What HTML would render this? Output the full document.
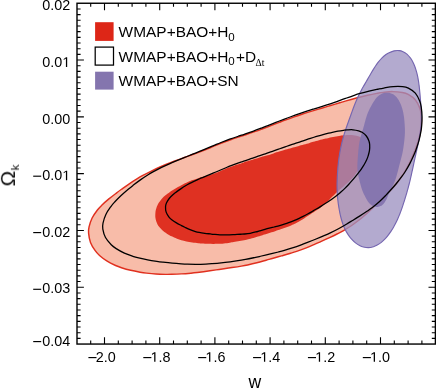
<!DOCTYPE html>
<html>
<head>
<meta charset="utf-8">
<title>Omega_k vs w constraints</title>
<style>
html,body{margin:0;padding:0;background:#fff;}
body{width:436px;height:388px;overflow:hidden;font-family:"Liberation Sans",sans-serif;}
svg{display:block;}
</style>
</head>
<body>
<svg width="436" height="388" viewBox="0 0 436 388">
<rect width="436" height="388" fill="#fff"/>
<path d="M88.59 233.18C88.35 230.60 88.46 229.46 89.05 226.93C89.64 224.39 90.73 220.79 92.13 217.97C93.52 215.15 95.82 212.11 97.42 210.00C99.02 207.89 99.84 207.14 101.75 205.29C103.66 203.44 106.44 200.97 108.88 198.93C111.32 196.89 114.27 194.66 116.37 193.06C118.47 191.45 119.32 190.82 121.47 189.28C123.63 187.74 126.64 185.57 129.28 183.80C131.93 182.03 135.08 180.04 137.35 178.65C139.61 177.26 140.54 176.73 142.87 175.46C145.20 174.19 148.49 172.45 151.35 171.04C154.20 169.63 157.57 168.09 159.99 167.00C162.40 165.91 163.37 165.49 165.83 164.49C168.28 163.49 171.73 162.12 174.71 161.00C177.69 159.87 181.20 158.64 183.71 157.75C186.21 156.85 187.23 156.53 189.73 155.63C192.22 154.72 195.72 153.48 198.69 152.34C201.66 151.21 205.08 149.82 207.54 148.83C209.99 147.84 210.95 147.40 213.41 146.39C215.87 145.39 219.31 143.95 222.28 142.79C225.26 141.63 228.77 140.35 231.28 139.45C233.78 138.56 234.80 138.24 237.31 137.41C239.83 136.58 243.35 135.46 246.37 134.47C249.38 133.47 252.89 132.30 255.39 131.43C257.89 130.57 258.89 130.20 261.39 129.28C263.88 128.35 267.38 127.01 270.36 125.86C273.34 124.72 276.81 123.35 279.28 122.39C281.75 121.43 282.73 121.04 285.21 120.12C287.68 119.20 291.13 117.92 294.13 116.87C297.12 115.81 300.66 114.64 303.19 113.80C305.72 112.97 306.75 112.65 309.30 111.87C311.86 111.09 315.45 110.01 318.50 109.10C321.55 108.19 325.09 107.17 327.62 106.42C330.15 105.68 331.14 105.38 333.67 104.63C336.20 103.87 339.73 102.79 342.79 101.88C345.86 100.98 349.48 99.91 352.05 99.18C354.63 98.44 355.68 98.14 358.26 97.49C360.83 96.83 364.42 95.92 367.49 95.23C370.56 94.55 374.11 93.84 376.69 93.36C379.26 92.88 380.28 92.66 382.93 92.37C385.58 92.08 389.38 91.58 392.61 91.60C395.84 91.62 399.69 92.01 402.30 92.49C404.90 92.97 406.06 93.23 408.25 94.49C410.44 95.74 413.51 97.72 415.44 99.99C417.37 102.27 418.87 105.73 419.83 108.14C420.79 110.55 420.93 111.78 421.19 114.47C421.45 117.16 421.57 121.07 421.38 124.28C421.19 127.49 420.50 131.16 420.03 133.74C419.55 136.33 419.27 137.30 418.52 139.79C417.77 142.28 416.65 145.73 415.54 148.69C414.43 151.66 412.94 155.13 411.87 157.59C410.80 160.05 410.34 161.07 409.14 163.46C407.93 165.85 406.25 169.21 404.65 171.94C403.05 174.66 401.03 177.68 399.54 179.81C398.05 181.95 397.40 182.74 395.69 184.74C393.97 186.73 391.48 189.48 389.26 191.79C387.04 194.09 384.30 196.71 382.38 198.59C380.46 200.47 379.67 201.21 377.76 203.04C375.85 204.87 373.21 207.44 370.91 209.60C368.60 211.75 365.92 214.22 363.94 215.96C361.97 217.70 361.18 218.41 359.07 220.04C356.96 221.67 353.96 223.95 351.30 225.73C348.64 227.52 345.39 229.43 343.09 230.77C340.79 232.11 339.84 232.58 337.49 233.77C335.14 234.96 331.85 236.55 328.99 237.90C326.13 239.25 322.77 240.76 320.35 241.85C317.94 242.93 316.95 243.39 314.50 244.43C312.04 245.47 308.58 246.96 305.60 248.11C302.62 249.27 299.12 250.50 296.62 251.36C294.12 252.21 293.12 252.50 290.60 253.25C288.08 254.01 284.54 255.00 281.49 255.87C278.43 256.74 274.83 257.74 272.26 258.46C269.70 259.19 268.66 259.51 266.09 260.22C263.51 260.94 259.92 261.98 256.84 262.76C253.76 263.54 250.17 264.36 247.59 264.92C245.02 265.47 243.99 265.65 241.38 266.09C238.77 266.53 235.10 267.09 231.94 267.56C228.78 268.04 225.06 268.56 222.41 268.95C219.77 269.33 218.71 269.50 216.08 269.89C213.46 270.28 209.80 270.85 206.66 271.29C203.52 271.72 199.88 272.19 197.26 272.51C194.64 272.82 193.59 272.93 190.93 273.16C188.28 273.39 184.55 273.70 181.35 273.89C178.15 274.08 174.41 274.22 171.75 274.30C169.09 274.38 168.03 274.41 165.39 274.36C162.76 274.32 159.08 274.25 155.92 274.04C152.77 273.83 149.09 273.43 146.45 273.12C143.82 272.81 142.75 272.65 140.12 272.18C137.49 271.70 133.78 271.02 130.68 270.27C127.57 269.52 124.00 268.49 121.49 267.70C118.97 266.90 117.97 266.58 115.58 265.50C113.20 264.42 109.83 262.89 107.16 261.22C104.49 259.54 101.53 257.20 99.54 255.44C97.55 253.69 96.72 252.88 95.21 250.70C93.70 248.53 91.59 245.32 90.49 242.40C89.39 239.48 88.83 235.76 88.59 233.18Z" fill="#f8bca9" stroke="#e0301f" stroke-width="1.45"/>
<path d="M155.48 212.05C155.63 210.41 155.81 209.71 156.35 208.17C156.90 206.62 157.78 204.46 158.77 202.79C159.76 201.12 161.23 199.37 162.30 198.15C163.36 196.92 163.88 196.49 165.15 195.45C166.43 194.41 168.30 193.02 169.94 191.90C171.59 190.78 173.61 189.59 175.02 188.74C176.44 187.88 177.02 187.56 178.45 186.77C179.88 185.97 181.88 184.86 183.63 183.98C185.39 183.09 187.47 182.12 188.97 181.45C190.47 180.78 191.10 180.53 192.66 179.98C194.22 179.42 196.44 178.70 198.35 178.13C200.25 177.57 202.50 177.02 204.08 176.59C205.67 176.17 206.31 176.04 207.88 175.57C209.45 175.11 211.64 174.46 213.50 173.81C215.36 173.15 217.52 172.28 219.06 171.66C220.60 171.04 221.21 170.75 222.74 170.10C224.27 169.46 226.40 168.54 228.24 167.81C230.07 167.09 232.21 166.30 233.75 165.74C235.29 165.18 235.90 164.99 237.47 164.47C239.03 163.96 241.23 163.26 243.13 162.65C245.02 162.05 247.26 161.34 248.84 160.85C250.43 160.35 251.06 160.15 252.64 159.67C254.21 159.19 256.41 158.53 258.29 157.98C260.18 157.42 262.37 156.79 263.95 156.33C265.52 155.87 266.16 155.69 267.74 155.20C269.33 154.72 271.56 154.02 273.46 153.42C275.36 152.81 277.57 152.09 279.15 151.59C280.72 151.09 281.34 150.88 282.90 150.42C284.47 149.95 286.65 149.31 288.55 148.79C290.44 148.26 292.68 147.68 294.28 147.26C295.88 146.83 296.54 146.67 298.14 146.22C299.75 145.78 302.01 145.16 303.92 144.61C305.82 144.06 308.01 143.40 309.58 142.94C311.15 142.48 311.75 142.28 313.33 141.84C314.90 141.39 317.10 140.77 319.02 140.26C320.94 139.76 323.23 139.21 324.86 138.83C326.48 138.44 327.16 138.30 328.78 137.96C330.40 137.63 332.67 137.17 334.59 136.82C336.52 136.47 338.72 136.11 340.32 135.87C341.93 135.63 342.55 135.51 344.20 135.37C345.86 135.24 348.22 134.99 350.23 135.04C352.24 135.10 354.66 135.39 356.28 135.72C357.90 136.06 358.63 136.24 359.95 137.07C361.28 137.89 363.14 139.20 364.22 140.68C365.31 142.16 366.02 144.40 366.44 145.94C366.85 147.48 366.84 148.27 366.72 149.94C366.60 151.60 366.24 154.02 365.71 155.93C365.17 157.85 364.20 159.96 363.53 161.45C362.86 162.94 362.52 163.47 361.69 164.86C360.87 166.25 359.67 168.16 358.57 169.80C357.47 171.43 356.09 173.33 355.09 174.66C354.09 175.99 353.67 176.54 352.57 177.79C351.46 179.03 349.89 180.75 348.47 182.12C347.05 183.49 345.30 184.95 344.07 186.01C342.83 187.08 342.30 187.45 341.06 188.51C339.82 189.57 338.07 191.04 336.62 192.38C335.18 193.71 333.56 195.37 332.39 196.54C331.23 197.71 330.81 198.22 329.65 199.39C328.49 200.55 326.89 202.20 325.43 203.51C323.98 204.83 322.19 206.25 320.91 207.26C319.62 208.26 319.06 208.62 317.70 209.55C316.34 210.47 314.39 211.73 312.74 212.81C311.09 213.88 309.15 215.12 307.77 216.01C306.39 216.90 305.86 217.26 304.47 218.13C303.09 218.99 301.16 220.22 299.45 221.20C297.74 222.17 295.69 223.25 294.21 223.99C292.74 224.72 292.12 225.00 290.59 225.63C289.06 226.26 286.90 227.11 285.04 227.78C283.18 228.46 281.00 229.16 279.44 229.68C277.89 230.19 277.26 230.38 275.70 230.88C274.14 231.39 271.95 232.10 270.07 232.72C268.19 233.34 265.99 234.08 264.42 234.60C262.85 235.12 262.22 235.35 260.65 235.84C259.07 236.33 256.87 237.03 254.97 237.56C253.08 238.10 250.85 238.65 249.25 239.04C247.66 239.43 247.01 239.57 245.39 239.90C243.77 240.24 241.50 240.69 239.55 241.05C237.59 241.41 235.31 241.80 233.68 242.06C232.05 242.33 231.41 242.44 229.78 242.66C228.15 242.89 225.87 243.20 223.91 243.39C221.94 243.58 219.64 243.74 217.99 243.83C216.34 243.92 215.68 243.94 214.02 243.94C212.37 243.95 210.05 243.93 208.07 243.86C206.09 243.79 203.80 243.64 202.16 243.53C200.52 243.41 199.87 243.36 198.23 243.18C196.59 243.00 194.30 242.75 192.34 242.46C190.38 242.17 188.09 241.75 186.47 241.42C184.86 241.09 184.21 240.94 182.63 240.49C181.05 240.03 178.85 239.37 177.01 238.69C175.17 238.00 173.07 237.06 171.59 236.35C170.10 235.65 169.49 235.36 168.10 234.48C166.70 233.60 164.70 232.36 163.21 231.09C161.71 229.82 160.14 228.13 159.12 226.87C158.11 225.62 157.72 225.04 157.11 223.56C156.50 222.08 155.72 219.90 155.45 217.99C155.18 216.07 155.33 213.69 155.48 212.05Z" fill="#df3122"/>
<path d="M399.28 50.60C400.68 50.70 401.27 50.86 402.54 51.45C403.82 52.04 405.61 53.03 406.94 54.15C408.27 55.27 409.61 56.98 410.53 58.17C411.45 59.36 411.76 59.95 412.46 61.30C413.16 62.65 414.07 64.61 414.73 66.29C415.38 67.96 415.97 69.95 416.39 71.35C416.81 72.76 416.94 73.31 417.26 74.73C417.57 76.15 417.98 78.12 418.28 79.85C418.58 81.59 418.85 83.64 419.05 85.12C419.25 86.59 419.30 87.20 419.46 88.70C419.61 90.20 419.81 92.32 419.98 94.12C420.14 95.91 420.31 98.00 420.43 99.49C420.56 100.97 420.61 101.55 420.72 103.02C420.83 104.48 421.00 106.52 421.11 108.28C421.22 110.03 421.33 112.09 421.38 113.56C421.44 115.04 421.46 115.63 421.45 117.13C421.44 118.62 421.41 120.73 421.31 122.53C421.21 124.33 421.01 126.44 420.86 127.93C420.71 129.42 420.62 130.01 420.40 131.47C420.18 132.94 419.85 134.97 419.53 136.71C419.22 138.45 418.80 140.45 418.51 141.89C418.22 143.33 418.09 143.90 417.78 145.35C417.46 146.80 417.01 148.83 416.63 150.58C416.24 152.34 415.79 154.40 415.47 155.87C415.14 157.33 415.01 157.93 414.70 159.38C414.38 160.84 413.94 162.88 413.56 164.61C413.19 166.35 412.76 168.35 412.45 169.79C412.14 171.22 412.02 171.79 411.70 173.23C411.38 174.66 410.94 176.68 410.53 178.41C410.12 180.15 409.62 182.19 409.26 183.65C408.89 185.10 408.74 185.69 408.35 187.14C407.95 188.59 407.40 190.62 406.90 192.34C406.41 194.05 405.82 196.03 405.40 197.44C404.97 198.85 404.80 199.41 404.36 200.80C403.91 202.20 403.30 204.15 402.73 205.83C402.17 207.51 401.48 209.48 400.97 210.89C400.47 212.29 400.26 212.86 399.69 214.26C399.12 215.65 398.32 217.62 397.58 219.26C396.83 220.89 395.90 222.77 395.23 224.09C394.56 225.41 394.28 225.92 393.53 227.18C392.79 228.44 391.74 230.18 390.76 231.63C389.78 233.08 388.55 234.72 387.64 235.89C386.73 237.05 386.35 237.52 385.30 238.60C384.25 239.67 382.74 241.21 381.33 242.34C379.91 243.47 378.10 244.63 376.80 245.37C375.50 246.11 374.93 246.38 373.53 246.77C372.13 247.16 370.12 247.65 368.41 247.69C366.71 247.74 364.70 247.36 363.30 247.05C361.91 246.73 361.34 246.48 360.04 245.79C358.75 245.10 356.94 244.01 355.53 242.90C354.13 241.80 352.63 240.25 351.60 239.15C350.56 238.06 350.19 237.57 349.32 236.35C348.46 235.13 347.29 233.40 346.42 231.86C345.54 230.32 344.69 228.45 344.08 227.11C343.48 225.78 343.28 225.23 342.81 223.83C342.33 222.44 341.71 220.47 341.24 218.76C340.77 217.04 340.31 214.99 339.99 213.54C339.67 212.08 339.56 211.48 339.30 210.01C339.04 208.54 338.69 206.47 338.43 204.70C338.18 202.93 337.93 200.87 337.77 199.39C337.60 197.92 337.55 197.33 337.44 195.86C337.34 194.39 337.21 192.33 337.15 190.56C337.08 188.78 337.07 186.71 337.07 185.23C337.07 183.75 337.08 183.15 337.12 181.66C337.17 180.17 337.24 178.09 337.33 176.30C337.41 174.51 337.55 172.43 337.65 170.94C337.75 169.45 337.79 168.86 337.92 167.38C338.06 165.90 338.25 163.83 338.45 162.07C338.65 160.30 338.93 158.25 339.13 156.79C339.34 155.33 339.43 154.74 339.69 153.28C339.94 151.82 340.32 149.78 340.68 148.03C341.04 146.28 341.51 144.25 341.85 142.80C342.20 141.35 342.34 140.76 342.74 139.33C343.13 137.89 343.69 135.87 344.20 134.17C344.72 132.46 345.36 130.49 345.82 129.08C346.28 127.67 346.48 127.12 346.96 125.72C347.45 124.33 348.15 122.38 348.75 120.71C349.35 119.04 350.06 117.09 350.57 115.69C351.08 114.29 351.28 113.73 351.80 112.33C352.31 110.93 353.03 108.95 353.66 107.28C354.30 105.61 355.06 103.66 355.61 102.29C356.17 100.91 356.39 100.36 357.00 99.02C357.60 97.67 358.46 95.80 359.25 94.22C360.03 92.64 361.01 90.82 361.71 89.52C362.41 88.22 362.71 87.70 363.45 86.41C364.19 85.11 365.25 83.29 366.15 81.73C367.05 80.17 368.11 78.35 368.86 77.05C369.61 75.75 369.90 75.23 370.65 73.95C371.40 72.67 372.43 70.88 373.35 69.38C374.27 67.88 375.37 66.17 376.19 64.96C377.00 63.75 377.32 63.26 378.26 62.12C379.19 60.98 380.51 59.36 381.80 58.10C383.09 56.84 384.76 55.47 385.98 54.56C387.20 53.66 387.74 53.28 389.10 52.66C390.47 52.03 392.45 51.16 394.14 50.82C395.84 50.48 397.88 50.49 399.28 50.60Z" fill="#9c90c0" fill-opacity="0.77" stroke="#7566b0" stroke-width="1.15"/>
<path d="M388.39 92.76C389.24 92.81 389.59 92.88 390.39 93.14C391.19 93.40 392.32 93.82 393.19 94.32C394.06 94.82 394.99 95.59 395.63 96.14C396.26 96.69 396.49 96.96 397.01 97.64C397.54 98.31 398.23 99.29 398.76 100.18C399.28 101.06 399.80 102.16 400.17 102.93C400.53 103.71 400.66 104.03 400.96 104.83C401.27 105.63 401.68 106.76 401.99 107.73C402.29 108.71 402.61 109.86 402.82 110.69C403.03 111.51 403.11 111.85 403.27 112.69C403.44 113.53 403.65 114.71 403.80 115.73C403.96 116.75 404.09 117.95 404.19 118.81C404.28 119.67 404.31 120.01 404.39 120.87C404.46 121.72 404.56 122.92 404.63 123.94C404.70 124.97 404.78 126.16 404.82 127.01C404.87 127.87 404.88 128.21 404.90 129.06C404.92 129.92 404.94 131.12 404.92 132.15C404.90 133.18 404.84 134.38 404.79 135.24C404.75 136.10 404.71 136.45 404.64 137.30C404.56 138.16 404.43 139.36 404.32 140.39C404.21 141.41 404.06 142.60 403.96 143.44C403.86 144.29 403.81 144.63 403.70 145.48C403.59 146.32 403.43 147.51 403.27 148.52C403.11 149.54 402.91 150.72 402.75 151.57C402.60 152.41 402.53 152.75 402.34 153.60C402.16 154.44 401.88 155.62 401.64 156.62C401.39 157.62 401.07 158.78 400.86 159.61C400.64 160.44 400.54 160.76 400.32 161.59C400.10 162.41 399.80 163.57 399.54 164.56C399.28 165.55 398.99 166.71 398.78 167.55C398.57 168.38 398.49 168.71 398.28 169.55C398.07 170.39 397.78 171.56 397.51 172.56C397.25 173.56 396.93 174.73 396.69 175.55C396.46 176.37 396.36 176.70 396.10 177.51C395.83 178.32 395.46 179.45 395.10 180.40C394.74 181.36 394.28 182.46 393.95 183.24C393.61 184.03 393.47 184.34 393.09 185.12C392.72 185.90 392.18 186.99 391.72 187.92C391.26 188.85 390.70 189.93 390.32 190.70C389.94 191.48 389.79 191.78 389.43 192.56C389.07 193.33 388.59 194.41 388.17 195.34C387.76 196.28 387.30 197.37 386.95 198.15C386.60 198.92 386.48 199.25 386.06 200.00C385.64 200.75 385.05 201.83 384.42 202.65C383.79 203.47 382.93 204.35 382.28 204.91C381.64 205.48 381.33 205.71 380.57 206.05C379.81 206.39 378.67 206.84 377.70 206.97C376.73 207.09 375.54 206.95 374.74 206.80C373.94 206.66 373.60 206.52 372.88 206.11C372.15 205.69 371.15 205.02 370.39 204.34C369.64 203.65 368.87 202.67 368.33 201.99C367.79 201.31 367.61 201.00 367.16 200.27C366.70 199.53 366.09 198.48 365.61 197.58C365.12 196.68 364.60 195.61 364.23 194.85C363.86 194.09 363.72 193.78 363.39 193.00C363.07 192.22 362.62 191.12 362.27 190.15C361.92 189.19 361.55 188.04 361.29 187.21C361.03 186.39 360.94 186.05 360.71 185.22C360.48 184.39 360.16 183.21 359.90 182.21C359.64 181.21 359.35 180.05 359.15 179.22C358.94 178.39 358.85 178.06 358.67 177.23C358.49 176.40 358.23 175.24 358.05 174.24C357.87 173.23 357.71 172.04 357.60 171.20C357.50 170.35 357.47 170.00 357.43 169.14C357.39 168.28 357.35 167.08 357.35 166.04C357.36 165.01 357.41 163.80 357.45 162.94C357.48 162.08 357.51 161.74 357.57 160.89C357.62 160.03 357.71 158.84 357.78 157.82C357.86 156.80 357.95 155.61 358.02 154.75C358.08 153.90 358.11 153.56 358.18 152.70C358.25 151.84 358.35 150.64 358.45 149.61C358.55 148.58 358.68 147.38 358.78 146.53C358.87 145.67 358.91 145.33 359.05 144.48C359.18 143.64 359.36 142.45 359.56 141.45C359.76 140.44 360.03 139.28 360.22 138.45C360.42 137.62 360.52 137.29 360.75 136.47C360.99 135.65 361.34 134.50 361.64 133.51C361.94 132.52 362.32 131.38 362.57 130.55C362.83 129.73 362.94 129.40 363.18 128.58C363.42 127.76 363.75 126.60 364.02 125.61C364.29 124.62 364.58 123.45 364.79 122.62C365.00 121.80 365.08 121.46 365.30 120.63C365.52 119.81 365.83 118.65 366.13 117.66C366.43 116.68 366.82 115.54 367.10 114.73C367.39 113.92 367.52 113.60 367.85 112.81C368.18 112.02 368.67 110.91 369.10 109.98C369.54 109.05 370.09 107.98 370.48 107.22C370.87 106.46 371.03 106.15 371.44 105.41C371.86 104.66 372.44 103.61 372.98 102.73C373.52 101.85 374.18 100.85 374.67 100.15C375.16 99.45 375.36 99.16 375.92 98.52C376.49 97.88 377.29 96.98 378.06 96.31C378.83 95.64 379.82 94.97 380.54 94.52C381.26 94.07 381.58 93.90 382.38 93.62C383.18 93.34 384.33 92.97 385.33 92.83C386.34 92.68 387.55 92.71 388.39 92.76Z" fill="#8475ae" fill-opacity="0.97"/>
<path d="M102.82 229.07C102.41 226.67 102.50 225.56 103.01 223.12C103.52 220.68 104.57 217.19 105.88 214.43C107.20 211.66 109.40 208.64 110.90 206.53C112.41 204.43 113.16 203.66 114.90 201.79C116.65 199.92 119.16 197.39 121.38 195.31C123.61 193.23 126.30 190.94 128.24 189.29C130.17 187.65 130.97 187.00 132.99 185.43C135.02 183.87 137.88 181.67 140.40 179.89C142.92 178.11 145.94 176.13 148.11 174.76C150.27 173.38 151.16 172.86 153.40 171.63C155.64 170.41 158.79 168.74 161.55 167.40C164.30 166.06 167.57 164.62 169.91 163.59C172.24 162.55 173.20 162.17 175.56 161.19C177.93 160.20 181.26 158.85 184.11 157.68C186.96 156.52 190.29 155.18 192.66 154.21C195.04 153.24 195.98 152.86 198.35 151.88C200.71 150.91 204.00 149.53 206.83 148.35C209.66 147.17 212.96 145.78 215.32 144.80C217.68 143.83 218.63 143.43 221.02 142.50C223.41 141.57 226.77 140.27 229.66 139.22C232.56 138.18 235.97 137.03 238.40 136.21C240.82 135.38 241.80 135.09 244.22 134.27C246.64 133.45 250.02 132.32 252.90 131.28C255.78 130.25 259.12 128.98 261.52 128.07C263.91 127.16 264.86 126.76 267.25 125.82C269.64 124.88 272.99 123.53 275.86 122.41C278.73 121.29 282.08 120.02 284.47 119.11C286.85 118.21 287.80 117.86 290.20 117.00C292.59 116.13 295.93 114.92 298.83 113.92C301.73 112.91 305.15 111.76 307.59 110.96C310.04 110.15 311.04 109.84 313.50 109.07C315.95 108.30 319.41 107.26 322.34 106.35C325.26 105.43 328.63 104.37 331.04 103.58C333.45 102.78 334.39 102.45 336.79 101.59C339.19 100.73 342.54 99.46 345.45 98.41C348.37 97.36 351.81 96.12 354.26 95.29C356.72 94.46 357.73 94.14 360.19 93.46C362.64 92.77 366.08 91.88 369.02 91.18C371.96 90.47 375.37 89.77 377.84 89.25C380.31 88.72 381.29 88.48 383.85 88.04C386.42 87.60 390.09 86.84 393.21 86.61C396.34 86.38 400.08 86.39 402.60 86.65C405.13 86.92 406.24 87.08 408.37 88.17C410.49 89.26 413.45 91.05 415.33 93.20C417.22 95.35 418.71 98.73 419.69 101.07C420.68 103.40 420.84 104.61 421.23 107.21C421.63 109.81 421.98 113.58 422.05 116.68C422.13 119.79 421.87 123.31 421.68 125.82C421.49 128.32 421.37 129.27 420.91 131.72C420.46 134.18 419.76 137.60 418.96 140.55C418.15 143.51 416.95 146.99 416.09 149.44C415.22 151.90 414.81 152.92 413.77 155.29C412.72 157.66 411.24 160.97 409.82 163.67C408.41 166.37 406.61 169.36 405.29 171.49C403.96 173.63 403.39 174.43 401.87 176.47C400.35 178.51 398.15 181.34 396.18 183.73C394.20 186.12 391.75 188.87 390.02 190.80C388.29 192.73 387.59 193.51 385.80 195.33C384.01 197.15 381.53 199.68 379.28 201.70C377.04 203.73 374.31 205.93 372.33 207.50C370.35 209.06 369.50 209.63 367.37 211.08C365.25 212.52 362.19 214.50 359.57 216.16C356.95 217.82 353.83 219.70 351.64 221.03C349.44 222.37 348.58 222.90 346.39 224.18C344.20 225.45 341.17 227.24 338.49 228.69C335.81 230.13 332.62 231.73 330.32 232.85C328.02 233.98 327.05 234.40 324.68 235.43C322.31 236.46 318.94 237.87 316.08 239.03C313.22 240.20 309.89 241.50 307.52 242.42C305.15 243.35 304.23 243.72 301.84 244.58C299.46 245.45 296.15 246.67 293.24 247.64C290.33 248.60 286.86 249.65 284.38 250.37C281.91 251.10 280.88 251.36 278.38 252.00C275.89 252.64 272.38 253.50 269.40 254.21C266.42 254.92 262.98 255.69 260.50 256.25C258.03 256.81 257.06 257.04 254.57 257.56C252.07 258.08 248.56 258.82 245.52 259.39C242.48 259.96 238.88 260.56 236.33 260.97C233.78 261.37 232.75 261.52 230.21 261.84C227.67 262.16 224.15 262.59 221.12 262.90C218.09 263.21 214.58 263.50 212.05 263.70C209.51 263.89 208.49 263.97 205.92 264.07C203.35 264.18 199.71 264.32 196.61 264.34C193.51 264.36 189.88 264.27 187.32 264.19C184.75 264.12 183.74 264.05 181.21 263.88C178.68 263.70 175.18 263.43 172.15 263.14C169.12 262.85 165.58 262.44 163.03 262.14C160.49 261.84 159.44 261.72 156.87 261.33C154.31 260.95 150.68 260.41 147.64 259.85C144.61 259.28 141.13 258.51 138.67 257.92C136.20 257.33 135.25 257.10 132.87 256.30C130.49 255.50 127.15 254.40 124.37 253.13C121.59 251.85 118.38 250.05 116.19 248.66C114.00 247.27 113.02 246.63 111.24 244.77C109.46 242.92 106.90 240.17 105.50 237.55C104.09 234.94 103.24 231.48 102.82 229.07Z" fill="none" stroke="#000" stroke-width="1.28"/>
<path d="M165.54 206.65C165.59 205.13 165.80 204.45 166.44 203.05C167.08 201.65 168.22 199.72 169.39 198.25C170.56 196.78 172.30 195.31 173.48 194.24C174.66 193.18 175.20 192.82 176.48 191.88C177.75 190.94 179.55 189.65 181.13 188.60C182.71 187.55 184.58 186.38 185.93 185.56C187.29 184.74 187.84 184.42 189.25 183.68C190.65 182.94 192.63 181.93 194.35 181.11C196.07 180.29 198.11 179.41 199.56 178.77C201.01 178.14 201.60 177.90 203.06 177.29C204.53 176.68 206.58 175.84 208.34 175.12C210.10 174.40 212.16 173.56 213.62 172.96C215.09 172.36 215.68 172.11 217.14 171.49C218.60 170.88 220.63 170.00 222.38 169.25C224.13 168.50 226.17 167.62 227.63 167.01C229.09 166.40 229.68 166.15 231.16 165.59C232.64 165.02 234.72 164.25 236.52 163.61C238.31 162.98 240.42 162.28 241.92 161.78C243.43 161.27 244.03 161.08 245.53 160.57C247.03 160.06 249.12 159.34 250.92 158.71C252.72 158.09 254.82 157.35 256.32 156.83C257.82 156.32 258.42 156.11 259.92 155.60C261.42 155.09 263.53 154.39 265.33 153.78C267.14 153.18 269.23 152.46 270.73 151.95C272.23 151.43 272.82 151.22 274.32 150.68C275.81 150.15 277.90 149.39 279.69 148.75C281.49 148.12 283.59 147.38 285.09 146.86C286.59 146.34 287.19 146.14 288.69 145.64C290.20 145.14 292.30 144.44 294.10 143.84C295.90 143.24 298.00 142.53 299.50 142.02C301.00 141.51 301.60 141.30 303.11 140.80C304.62 140.29 306.73 139.57 308.54 138.98C310.35 138.40 312.47 137.73 313.98 137.26C315.49 136.79 316.10 136.61 317.61 136.17C319.13 135.72 321.25 135.10 323.09 134.60C324.92 134.10 327.08 133.54 328.62 133.15C330.16 132.76 330.79 132.61 332.34 132.28C333.90 131.95 336.07 131.50 337.94 131.17C339.81 130.83 341.99 130.50 343.55 130.28C345.11 130.07 345.74 129.96 347.32 129.88C348.90 129.80 351.14 129.63 353.03 129.79C354.91 129.94 357.13 130.38 358.65 130.81C360.16 131.23 360.82 131.48 362.10 132.34C363.39 133.21 365.20 134.57 366.34 136.01C367.48 137.45 368.38 139.53 368.94 140.97C369.49 142.42 369.58 143.11 369.67 144.68C369.76 146.25 369.74 148.51 369.48 150.39C369.23 152.26 368.59 154.42 368.15 155.94C367.70 157.45 367.45 158.04 366.79 159.47C366.14 160.90 365.17 162.88 364.22 164.52C363.27 166.15 362.00 167.98 361.10 169.29C360.20 170.59 359.79 171.09 358.81 172.34C357.83 173.59 356.43 175.33 355.23 176.81C354.02 178.28 352.59 179.97 351.56 181.18C350.54 182.38 350.13 182.86 349.06 184.02C347.98 185.18 346.48 186.80 345.12 188.13C343.76 189.45 342.09 190.93 340.90 191.98C339.71 193.03 339.21 193.43 337.97 194.42C336.72 195.41 334.97 196.78 333.44 197.91C331.91 199.04 330.10 200.31 328.81 201.21C327.51 202.11 326.98 202.46 325.65 203.31C324.31 204.17 322.43 205.35 320.81 206.34C319.18 207.34 317.27 208.48 315.90 209.29C314.54 210.11 313.99 210.43 312.62 211.23C311.25 212.02 309.33 213.15 307.67 214.06C306.01 214.97 304.04 215.98 302.63 216.69C301.22 217.40 300.64 217.67 299.20 218.32C297.75 218.97 295.71 219.86 293.95 220.58C292.19 221.31 290.11 222.11 288.63 222.67C287.15 223.24 286.56 223.46 285.05 223.95C283.55 224.44 281.45 225.11 279.62 225.62C277.79 226.13 275.63 226.62 274.09 227.00C272.55 227.37 271.93 227.48 270.39 227.86C268.85 228.24 266.70 228.77 264.88 229.28C263.05 229.79 260.95 230.46 259.44 230.92C257.92 231.37 257.33 231.60 255.80 231.99C254.28 232.39 252.13 232.95 250.26 233.28C248.40 233.61 246.17 233.84 244.59 234.00C243.01 234.16 242.36 234.16 240.77 234.25C239.19 234.34 236.96 234.44 235.06 234.53C233.17 234.63 230.97 234.75 229.39 234.82C227.81 234.89 227.19 234.94 225.60 234.94C224.02 234.93 221.80 234.91 219.89 234.81C217.99 234.71 215.76 234.48 214.18 234.33C212.59 234.18 211.96 234.10 210.38 233.92C208.81 233.74 206.62 233.52 204.74 233.27C202.87 233.02 200.68 232.69 199.13 232.40C197.58 232.11 196.95 231.99 195.43 231.52C193.91 231.06 191.79 230.34 190.02 229.63C188.25 228.91 186.24 227.92 184.81 227.24C183.39 226.56 182.83 226.28 181.44 225.56C180.05 224.84 178.09 223.89 176.47 222.92C174.85 221.95 172.98 220.73 171.73 219.76C170.48 218.79 169.91 218.35 168.99 217.09C168.06 215.82 166.73 213.91 166.16 212.17C165.58 210.43 165.49 208.17 165.54 206.65Z" fill="none" stroke="#000" stroke-width="1.28"/>
<rect x="77.00" y="3.25" width="358.40" height="340.80" fill="none" stroke="#000" stroke-width="1.4"/>
<path d="M90.70 344.05v-3.60M90.70 3.25v3.60M104.50 344.05v-6.90M104.50 3.25v6.90M118.30 344.05v-3.60M118.30 3.25v3.60M132.10 344.05v-3.60M132.10 3.25v3.60M145.90 344.05v-3.60M145.90 3.25v3.60M159.70 344.05v-6.90M159.70 3.25v6.90M173.50 344.05v-3.60M173.50 3.25v3.60M187.30 344.05v-3.60M187.30 3.25v3.60M201.10 344.05v-3.60M201.10 3.25v3.60M214.90 344.05v-6.90M214.90 3.25v6.90M228.70 344.05v-3.60M228.70 3.25v3.60M242.50 344.05v-3.60M242.50 3.25v3.60M256.30 344.05v-3.60M256.30 3.25v3.60M270.10 344.05v-6.90M270.10 3.25v6.90M283.90 344.05v-3.60M283.90 3.25v3.60M297.70 344.05v-3.60M297.70 3.25v3.60M311.50 344.05v-3.60M311.50 3.25v3.60M325.30 344.05v-6.90M325.30 3.25v6.90M339.10 344.05v-3.60M339.10 3.25v3.60M352.90 344.05v-3.60M352.90 3.25v3.60M366.70 344.05v-3.60M366.70 3.25v3.60M380.50 344.05v-6.90M380.50 3.25v6.90M394.30 344.05v-3.60M394.30 3.25v3.60M408.10 344.05v-3.60M408.10 3.25v3.60M421.90 344.05v-3.60M421.90 3.25v3.60M77.00 8.93h3.60M435.40 8.93h-3.60M77.00 14.61h3.60M435.40 14.61h-3.60M77.00 20.29h3.60M435.40 20.29h-3.60M77.00 25.97h3.60M435.40 25.97h-3.60M77.00 31.65h3.60M435.40 31.65h-3.60M77.00 37.33h3.60M435.40 37.33h-3.60M77.00 43.01h3.60M435.40 43.01h-3.60M77.00 48.69h3.60M435.40 48.69h-3.60M77.00 54.37h3.60M435.40 54.37h-3.60M77.00 60.05h6.90M435.40 60.05h-6.90M77.00 65.73h3.60M435.40 65.73h-3.60M77.00 71.41h3.60M435.40 71.41h-3.60M77.00 77.09h3.60M435.40 77.09h-3.60M77.00 82.77h3.60M435.40 82.77h-3.60M77.00 88.45h3.60M435.40 88.45h-3.60M77.00 94.13h3.60M435.40 94.13h-3.60M77.00 99.81h3.60M435.40 99.81h-3.60M77.00 105.49h3.60M435.40 105.49h-3.60M77.00 111.17h3.60M435.40 111.17h-3.60M77.00 116.85h6.90M435.40 116.85h-6.90M77.00 122.53h3.60M435.40 122.53h-3.60M77.00 128.21h3.60M435.40 128.21h-3.60M77.00 133.89h3.60M435.40 133.89h-3.60M77.00 139.57h3.60M435.40 139.57h-3.60M77.00 145.25h3.60M435.40 145.25h-3.60M77.00 150.93h3.60M435.40 150.93h-3.60M77.00 156.61h3.60M435.40 156.61h-3.60M77.00 162.29h3.60M435.40 162.29h-3.60M77.00 167.97h3.60M435.40 167.97h-3.60M77.00 173.65h6.90M435.40 173.65h-6.90M77.00 179.33h3.60M435.40 179.33h-3.60M77.00 185.01h3.60M435.40 185.01h-3.60M77.00 190.69h3.60M435.40 190.69h-3.60M77.00 196.37h3.60M435.40 196.37h-3.60M77.00 202.05h3.60M435.40 202.05h-3.60M77.00 207.73h3.60M435.40 207.73h-3.60M77.00 213.41h3.60M435.40 213.41h-3.60M77.00 219.09h3.60M435.40 219.09h-3.60M77.00 224.77h3.60M435.40 224.77h-3.60M77.00 230.45h6.90M435.40 230.45h-6.90M77.00 236.13h3.60M435.40 236.13h-3.60M77.00 241.81h3.60M435.40 241.81h-3.60M77.00 247.49h3.60M435.40 247.49h-3.60M77.00 253.17h3.60M435.40 253.17h-3.60M77.00 258.85h3.60M435.40 258.85h-3.60M77.00 264.53h3.60M435.40 264.53h-3.60M77.00 270.21h3.60M435.40 270.21h-3.60M77.00 275.89h3.60M435.40 275.89h-3.60M77.00 281.57h3.60M435.40 281.57h-3.60M77.00 287.25h6.90M435.40 287.25h-6.90M77.00 292.93h3.60M435.40 292.93h-3.60M77.00 298.61h3.60M435.40 298.61h-3.60M77.00 304.29h3.60M435.40 304.29h-3.60M77.00 309.97h3.60M435.40 309.97h-3.60M77.00 315.65h3.60M435.40 315.65h-3.60M77.00 321.33h3.60M435.40 321.33h-3.60M77.00 327.01h3.60M435.40 327.01h-3.60M77.00 332.69h3.60M435.40 332.69h-3.60M77.00 338.37h3.60M435.40 338.37h-3.60" stroke="#000" stroke-width="1.1" fill="none"/>
<g fill="#000" opacity="0.999">
<text transform="translate(70.30 10.10) scale(1.035 1)" text-anchor="end" font-size="13.90" font-family="Liberation Sans, sans-serif">0.02</text>
<path transform="translate(62.30 66.90) scale(0.00702 -0.00679)" d="M515 0V1237L197 1010V1180L530 1409H696V0Z"/><text transform="translate(70.30 66.90) scale(1.035 1)" text-anchor="end" font-size="13.90" font-family="Liberation Sans, sans-serif">0.0&#8199;</text>
<text transform="translate(70.30 123.50) scale(1.035 1)" text-anchor="end" font-size="13.90" font-family="Liberation Sans, sans-serif">0.00</text>
<path transform="translate(62.30 180.20) scale(0.00702 -0.00679)" d="M515 0V1237L197 1010V1180L530 1409H696V0Z"/><text transform="translate(70.30 180.20) scale(1.035 1)" text-anchor="end" font-size="13.90" font-family="Liberation Sans, sans-serif">0.0&#8199;</text>
<path d="M33.2 176.20h8" stroke="#000" stroke-width="1.15"/>
<text transform="translate(70.30 236.60) scale(1.035 1)" text-anchor="end" font-size="13.90" font-family="Liberation Sans, sans-serif">0.02</text>
<path d="M33.2 232.60h8" stroke="#000" stroke-width="1.15"/>
<text transform="translate(70.30 293.30) scale(1.035 1)" text-anchor="end" font-size="13.90" font-family="Liberation Sans, sans-serif">0.03</text>
<path d="M33.2 289.30h8" stroke="#000" stroke-width="1.15"/>
<text transform="translate(70.30 345.60) scale(1.035 1)" text-anchor="end" font-size="13.90" font-family="Liberation Sans, sans-serif">0.04</text>
<path d="M33.2 341.60h8" stroke="#000" stroke-width="1.15"/>
<text transform="translate(115.70 361.80) scale(1.035 1)" text-anchor="end" font-size="13.90" font-family="Liberation Sans, sans-serif">2.0</text>
<path d="M88.40 357.6h8.1" stroke="#000" stroke-width="1.15"/>
<path transform="translate(150.58 361.80) scale(0.00702 -0.00679)" d="M515 0V1237L197 1010V1180L530 1409H696V0Z"/><text transform="translate(170.58 361.80) scale(1.035 1)" text-anchor="end" font-size="13.90" font-family="Liberation Sans, sans-serif">&#8199;.8</text>
<path d="M143.28 357.6h8.1" stroke="#000" stroke-width="1.15"/>
<path transform="translate(205.46 361.80) scale(0.00702 -0.00679)" d="M515 0V1237L197 1010V1180L530 1409H696V0Z"/><text transform="translate(225.46 361.80) scale(1.035 1)" text-anchor="end" font-size="13.90" font-family="Liberation Sans, sans-serif">&#8199;.6</text>
<path d="M198.16 357.6h8.1" stroke="#000" stroke-width="1.15"/>
<path transform="translate(260.34 361.80) scale(0.00702 -0.00679)" d="M515 0V1237L197 1010V1180L530 1409H696V0Z"/><text transform="translate(280.34 361.80) scale(1.035 1)" text-anchor="end" font-size="13.90" font-family="Liberation Sans, sans-serif">&#8199;.4</text>
<path d="M253.04 357.6h8.1" stroke="#000" stroke-width="1.15"/>
<path transform="translate(315.22 361.80) scale(0.00702 -0.00679)" d="M515 0V1237L197 1010V1180L530 1409H696V0Z"/><text transform="translate(335.22 361.80) scale(1.035 1)" text-anchor="end" font-size="13.90" font-family="Liberation Sans, sans-serif">&#8199;.2</text>
<path d="M307.92 357.6h8.1" stroke="#000" stroke-width="1.15"/>
<path transform="translate(370.10 361.80) scale(0.00702 -0.00679)" d="M515 0V1237L197 1010V1180L530 1409H696V0Z"/><text transform="translate(390.10 361.80) scale(1.035 1)" text-anchor="end" font-size="13.90" font-family="Liberation Sans, sans-serif">&#8199;.0</text>
<path d="M362.80 357.6h8.1" stroke="#000" stroke-width="1.15"/>
<text transform="translate(254.90 387.60) scale(1.000 1)" text-anchor="middle" font-size="17.60" font-family="Liberation Sans, sans-serif">w</text>
<g transform="translate(14.9 186.4) rotate(-90)"><text transform="translate(0.00 0.00) scale(1.070 1)" text-anchor="start" font-size="19.50" font-family="Liberation Sans, sans-serif">&#937;</text><text transform="translate(15.90 4.00) scale(1.000 1)" text-anchor="start" font-size="11.40" font-family="Liberation Sans, sans-serif">k</text></g>
<text transform="translate(118.60 37.30) scale(1.030 1)" text-anchor="start" font-size="15.00" font-family="Liberation Sans, sans-serif">WMAP+BAO+H</text>
<text transform="translate(228.30 40.80) scale(1.100 1)" text-anchor="start" font-size="10.50" font-family="Liberation Sans, sans-serif">0</text>
<text transform="translate(118.60 61.80) scale(1.030 1)" text-anchor="start" font-size="15.00" font-family="Liberation Sans, sans-serif">WMAP+BAO+H</text>
<text transform="translate(228.30 65.30) scale(1.100 1)" text-anchor="start" font-size="10.50" font-family="Liberation Sans, sans-serif">0</text>
<text transform="translate(235.92 61.80) scale(1.030 1)" text-anchor="start" font-size="15.00" font-family="Liberation Sans, sans-serif">+D</text>
<text transform="translate(255.60 65.80) scale(1.000 1)" text-anchor="start" font-size="9.70" font-family="Liberation Serif, serif">&#916;t</text>
<text transform="translate(118.60 86.40) scale(1.030 1)" text-anchor="start" font-size="15.00" font-family="Liberation Sans, sans-serif">WMAP+BAO+SN</text>
</g>
<rect x="95.1" y="22.2" width="18.5" height="18.7" fill="#dd2617"/>
<rect x="95.2" y="47.1" width="18.3" height="18.0" fill="#fff" stroke="#000" stroke-width="1.25"/>
<rect x="95.1" y="71.7" width="18.5" height="17.9" fill="#8475ae"/>
</svg>
</body>
</html>
